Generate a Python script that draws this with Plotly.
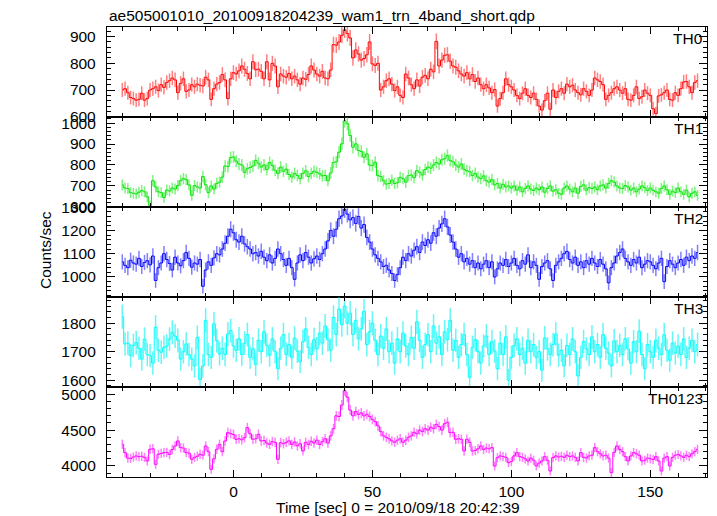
import numpy as np
import plotly.graph_objects as go
from plotly.subplots import make_subplots

# time bins (1 s), seconds since 2010/09/18 20:42:39
time_s = list(range(-40, 168))

th0 = [
    700, 705, 690, 672, 668, 662, 665, 688, 662, 668,
    700, 705, 712, 698, 720, 710, 728, 735, 745, 738,
    690, 725, 742, 695, 700, 720, 712, 722, 718, 715,
    748, 738, 665, 705, 722, 728, 758, 738, 668, 742,
    765, 760, 772, 790, 778, 762, 742, 806, 776, 778,
    770, 742, 806, 738, 800, 790, 712, 760, 752, 748,
    762, 742, 752, 738, 722, 745, 740, 758, 790, 775,
    760, 752, 770, 745, 742, 775, 870, 868, 880, 905,
    925, 912, 895, 820, 850, 835, 812, 818, 832, 880,
    798, 792, 800, 700, 712, 735, 742, 722, 698, 712,
    680, 672, 760, 745, 720, 705, 738, 715, 748, 755,
    742, 778, 768, 882, 790, 812, 830, 832, 808, 790,
    785, 772, 760, 752, 765, 742, 758, 732, 745, 720,
    705, 720, 708, 690, 702, 640, 668, 690, 742, 720,
    712, 700, 680, 668, 688, 705, 680, 672, 688, 665,
    640, 625, 660, 688, 628, 700, 672, 695, 705, 688,
    722, 712, 718, 700, 690, 682, 705, 695, 680, 700,
    745, 738, 732, 720, 665, 680, 690, 705, 712, 700,
    688, 705, 665, 662, 680, 712, 668, 675, 700, 688,
    680, 630, 612, 678, 682, 690, 700, 665, 662, 690,
    680, 705, 730, 732, 712, 690, 728, 735,
]

th1 = [
    705, 690, 688, 668, 665, 662, 670, 678, 672, 648,
    605, 725, 695, 672, 668, 645, 680, 676, 690, 685,
    702, 725, 735, 730, 705, 655, 702, 695, 690, 745,
    705, 668, 700, 685, 712, 718, 742, 795, 792, 835,
    838, 818, 805, 800, 765, 782, 788, 795, 822, 808,
    790, 800, 778, 812, 798, 775, 760, 790, 770, 780,
    755, 742, 760, 750, 735, 760, 772, 745, 760, 770,
    765, 758, 748, 750, 725, 762, 812, 815, 861, 901,
    1010, 997, 941, 885, 901, 869, 865, 837, 853, 800,
    797, 813, 749, 745, 725, 709, 712, 728, 712, 715,
    741, 735, 718, 749, 752, 740, 773, 765, 752, 778,
    790, 785, 800, 812, 805, 825, 830, 845, 822, 815,
    800, 790, 805, 780, 772, 768, 750, 760, 742, 735,
    748, 725, 718, 730, 705, 712, 690, 708, 695, 700,
    690, 700, 680, 695, 672, 688, 700, 685, 678, 690,
    682, 695, 670, 688, 700, 675, 682, 665, 660, 690,
    700, 685, 672, 690, 665, 698, 705, 680, 692, 688,
    695, 682, 700, 705, 690, 712, 725, 718, 700, 690,
    688, 702, 695, 680, 690, 672, 685, 700, 692, 678,
    690, 680, 672, 665, 688, 700, 682, 660, 675, 668,
    690, 672, 660, 680, 648, 665, 672, 655,
]

th2 = [
    1065, 1050, 1040, 1072, 1060, 1055, 1080, 1045, 1062, 1070,
    1052, 1090, 985, 1040, 1060, 1100, 1075, 1058, 1030, 1085,
    1060, 1048, 1070, 1105, 1080, 1042, 1060, 1055, 1075, 960,
    1030, 1065, 1050, 1082, 1100, 1095, 1120, 1145, 1175, 1205,
    1190, 1160, 1150, 1175, 1142, 1130, 1120, 1100, 1105, 1090,
    1110, 1085, 1070, 1095, 1060, 1080, 1120, 1100, 1075, 1050,
    1080, 1040, 990, 1060, 1095, 1070, 1105, 1085, 1060, 1078,
    1090, 1075, 1100, 1120, 1155, 1200, 1175, 1205, 1250, 1262,
    1290, 1270, 1245, 1255, 1230, 1260, 1210, 1225, 1170, 1150,
    1120, 1095, 1080, 1065, 1045, 1050, 1030, 1015, 985, 1010,
    1040, 1085, 1070, 1100, 1090, 1115, 1130, 1105, 1150, 1135,
    1160, 1145, 1190, 1175, 1210, 1228, 1250, 1215, 1180, 1150,
    1120, 1085, 1100, 1065, 1080, 1055, 1070, 1040, 1060, 1035,
    1055, 1070, 1040, 1065, 1000, 1035, 1060, 1050, 1075, 1045,
    1060, 1080, 1050, 1035, 1070, 1055, 1095, 1040, 1065, 1050,
    990, 1045, 1060, 1070, 1035, 985, 1050, 1065, 1080, 1100,
    1110, 1075, 1060, 1085, 1050, 1065, 1040, 1070, 1055, 1080,
    1060, 1045, 1075, 1055, 1035, 975, 1040, 1060, 1090, 1105,
    1120, 1080, 1065, 1050, 1075, 1060, 1085, 1040, 1055, 1070,
    1065, 1050, 1035, 1060, 1080, 980, 1045, 1070, 1055, 1040,
    1060, 1075, 1050, 1085, 1070, 1090, 1080, 1105,
]

th3 = [
    1823, 1727, 1730, 1686, 1722, 1732, 1712, 1674, 1744, 1690,
    1686, 1660, 1786, 1705, 1698, 1715, 1720, 1744, 1768, 1755,
    1740, 1674, 1700, 1727, 1690, 1674, 1650, 1750, 1602, 1650,
    1810, 1690, 1680, 1798, 1739, 1692, 1712, 1690, 1762, 1774,
    1720, 1705, 1745, 1690, 1730, 1760, 1680, 1710, 1655, 1740,
    1700, 1770, 1722, 1688, 1745, 1700, 1640, 1712, 1760, 1690,
    1725, 1680, 1748, 1702, 1665, 1735, 1780, 1715, 1690, 1742,
    1710, 1765, 1730, 1790, 1742, 1705, 1820, 1760, 1850, 1795,
    1860, 1800, 1835, 1760, 1810, 1745, 1780, 1842, 1725, 1770,
    1800, 1740, 1690, 1755, 1712, 1780, 1700, 1730, 1660, 1745,
    1700, 1765, 1720, 1690, 1750, 1712, 1805, 1740, 1680, 1725,
    1760, 1700, 1790, 1730, 1752, 1690, 1770, 1742, 1810, 1705,
    1740, 1680, 1725, 1760, 1690, 1610, 1715, 1742, 1700, 1660,
    1720, 1755, 1690, 1735, 1702, 1640, 1730, 1690, 1752, 1600,
    1680, 1722, 1745, 1690, 1712, 1660, 1740, 1700, 1725, 1680,
    1700, 1635, 1748, 1710, 1690, 1725, 1762, 1688, 1705, 1650,
    1722, 1690, 1745, 1700, 1615, 1680, 1735, 1710, 1690, 1752,
    1700, 1725, 1680, 1760, 1712, 1695, 1650, 1738, 1700, 1722,
    1690, 1745, 1710, 1660, 1735, 1700, 1772, 1690, 1640, 1725,
    1700, 1680, 1740, 1712, 1690, 1760, 1705, 1670, 1730, 1695,
    1720, 1690, 1745, 1680, 1712, 1740, 1700, 1725,
]

th0123 = [
    4302, 4186, 4110, 4105, 4125, 4140, 4130, 4135, 4120, 4070,
    4233, 4240, 4023, 4163, 4175, 4186, 4190, 4160, 4230, 4279,
    4349, 4256, 4250, 4186, 4180, 4093, 4120, 4135, 4163, 4150,
    4279, 4200, 3953, 4100, 4233, 4302, 4200, 4349, 4465, 4451,
    4440, 4372, 4380, 4365, 4395, 4535, 4450, 4372, 4380, 4442,
    4349, 4355, 4320, 4302, 4340, 4330, 4093, 4325, 4310, 4330,
    4350, 4300, 4335, 4280, 4310, 4210, 4330, 4300, 4345, 4320,
    4360, 4300, 4340, 4380, 4320, 4420, 4520, 4700, 4690, 4850,
    5050, 4960, 4780, 4700, 4760, 4720, 4740, 4700, 4720, 4690,
    4650, 4620, 4560, 4480, 4420, 4400, 4380, 4350, 4330, 4360,
    4380, 4330, 4360, 4400, 4420, 4470, 4450, 4500, 4480, 4520,
    4500, 4540, 4520, 4580, 4550, 4500, 4590, 4610, 4465, 4470,
    4372, 4380, 4372, 4209, 4372, 4330, 4209, 4215, 4240, 4279,
    4230, 4250, 4240, 4256, 4000, 4116, 4140, 4130, 4120, 4046,
    4060, 4140, 4186, 4130, 4120, 4100, 4070, 4110, 4080, 4000,
    4040, 4070, 4130, 4080, 3930, 4116, 4140, 4125, 4135, 4120,
    4150, 4130, 4140, 4120, 4070, 4186, 4120, 4110, 4140, 4150,
    4256, 4200, 4170, 4140, 4150, 4110, 3907, 4190, 4279, 4230,
    4200, 4130, 4070, 4140, 4186, 4170, 4150, 4070, 4080, 4110,
    4100, 4090, 4130, 4070, 3930, 4110, 4130, 4000, 4120, 4150,
    4160, 4140, 4120, 4150, 4130, 4170, 4200, 4233,
]

band_names = ["TH0", "TH1", "TH2", "TH3", "TH0123"]
band_series = [th0, th1, th2, th3, th0123]
band_colors = ["rgb(255,0,0)", "rgb(0,230,0)", "rgb(0,0,255)", "rgb(0,255,255)", "rgb(255,0,255)"]
err_colors = ["rgba(255,0,0,0.5)", "rgba(0,230,0,0.5)", "rgba(0,0,255,0.5)", "rgba(0,240,240,0.6)", "rgba(255,0,255,0.5)"]
y_ranges = [[599, 936], [599.5, 1029], [914, 1300.5], [1576, 1892], [3846, 5102]]
y_dticks = [100, 100, 100, 100, 500]
y_minor = [20, 20, 20, 20, 100]

FONT = "Liberation Sans, Arial, Helvetica, sans-serif"

fig = make_subplots(rows=5, cols=1, shared_xaxes=True, vertical_spacing=0)

for i, (name, vals) in enumerate(zip(band_names, band_series)):
    v = np.array(vals, dtype=float)
    fig.add_trace(
        go.Scatter(
            x=time_s, y=v, mode="lines", line_shape="hvh",
            line=dict(color=band_colors[i], width=1),
            error_y=dict(type="data", array=np.sqrt(v), visible=True,
                         color=err_colors[i], thickness=1.5, width=0),
            name=name, showlegend=False,
        ),
        row=i + 1, col=1,
    )

axis_common = dict(
    showline=True, linecolor="black", linewidth=1.3, mirror="allticks",
    ticks="inside", tickcolor="black", showgrid=False, zeroline=False,
    tickfont=dict(family=FONT, size=15.5, color="black"),
)

for i in range(5):
    fig.update_xaxes(
        range=[-45.5, 170.4], tick0=0, dtick=50, ticklen=7, tickwidth=1,
        minor=dict(dtick=10, ticklen=4, ticks="inside", tickcolor="black", showgrid=False),
        showticklabels=(i == 4), **axis_common, row=i + 1, col=1,
    )
    fig.update_yaxes(
        range=y_ranges[i], tick0=0, dtick=y_dticks[i], ticklen=8, tickwidth=1,
        minor=dict(dtick=y_minor[i], ticklen=4, ticks="inside", tickcolor="black", showgrid=False),
        ticklabelstandoff=7, **axis_common, row=i + 1, col=1,
    )

annotations = []
for i, name in enumerate(band_names):
    yref = "y domain" if i == 0 else f"y{i + 1} domain"
    annotations.append(dict(
        text=name, xref="paper", yref=yref, x=0.997, y=0.875,
        xanchor="right", yanchor="middle", showarrow=False,
        font=dict(family=FONT, size=15.5, color="black"),
    ))

annotations.append(dict(
    text="ae505001010_20100918204239_wam1_trn_4band_short.qdp",
    xref="paper", yref="paper", x=0.0, y=1 + (27 - 15) / 450,
    xanchor="left", yanchor="middle", showarrow=False,
    font=dict(family=FONT, size=15.5, color="black"),
))
annotations.append(dict(
    text="Counts/sec", xref="paper", yref="paper",
    x=(45 - 107) / 600, y=1 - (250 - 27) / 450, textangle=-90,
    xanchor="center", yanchor="middle", showarrow=False,
    font=dict(family=FONT, size=15.5, color="black"),
))
annotations.append(dict(
    text="Time [sec] 0 = 2010/09/18 20:42:39", xref="paper", yref="paper",
    x=(398 - 107) / 600, y=-(507 - 477) / 450,
    xanchor="center", yanchor="middle", showarrow=False,
    font=dict(family=FONT, size=15.5, color="black"),
))

# page body adds an 8 px offset; size the figure so the plot lands where the reference has it
fig.update_layout(
    width=709, height=508,
    margin=dict(l=99, r=10, t=19, b=39),
    plot_bgcolor="white", paper_bgcolor="white",
    showlegend=False, annotations=annotations,
    font=dict(family=FONT, size=15.5, color="black"),
)

fig.write_html("out.html")
